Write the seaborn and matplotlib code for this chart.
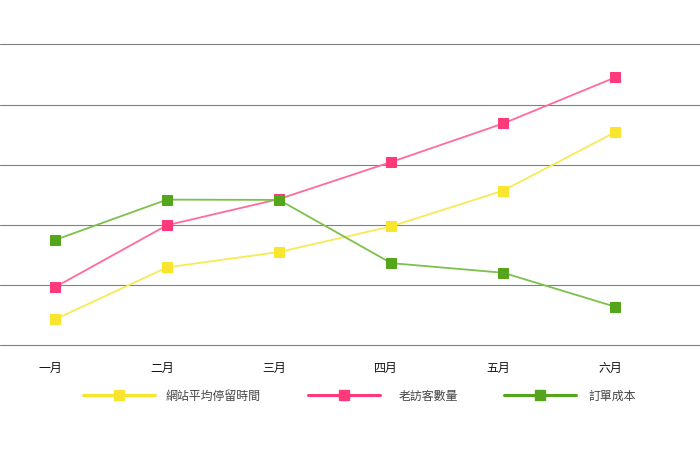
import matplotlib
matplotlib.use("Agg")
import matplotlib.pyplot as plt
import matplotlib.transforms as mtransforms
from matplotlib.lines import Line2D
import seaborn as sns
import pandas as pd

# data
months = ["一月", "二月", "三月", "四月", "五月", "六月"]
stay_time = [8.6, 25.9, 31.0, 39.5, 51.4, 70.8]
old_visitors = [19.3, 39.9, 48.6, 60.9, 73.7, 89.0]
order_cost = [35.0, 48.4, 48.3, 27.3, 24.1, 12.8]
series_names = ["網站平均停留時間", "老訪客數量", "訂單成本"]

line_colors = ["#f7ea55", "#ff6b9a", "#7dc04b"]
marker_colors = ["#f9e42e", "#ff3a7a", "#55a51c"]

sns.set_theme(style="white")
plt.rcParams["font.family"] = ["Noto Sans CJK TC", "DejaVu Sans"]

fig = plt.figure(figsize=(7, 4.5), dpi=100)
ax = fig.add_axes([0, (450 - 345.3) / 450, 1, (345.3 - 44.3) / 450])

x = list(range(len(months)))
for name, vals, lc, mc in zip(series_names, [stay_time, old_visitors, order_cost],
                              line_colors, marker_colors):
    df = pd.DataFrame({"x": x, "y": vals})
    sns.lineplot(data=df, x="x", y="y", ax=ax, color=lc, linewidth=1.3,
                 marker="s", markersize=7, markerfacecolor=mc,
                 markeredgecolor=mc, label=name, zorder=3)

# gridlines
for yv in [0, 20, 40, 60, 80, 100]:
    ax.axhline(yv, color="#808080", linewidth=0.8, zorder=1, clip_on=False)

px = 112.06
ax.set_xlim(-55 / px, (700 - 55) / px)
ax.set_ylim(0, 100)
ax.set_yticks([])
ax.set_xticks(x)
ax.set_xticklabels(months, fontsize=8.6, color="#111111")
ax.tick_params(axis="x", length=0, pad=12)
offset = mtransforms.ScaledTranslation(-5 / 100, 0, fig.dpi_scale_trans)
for lab in ax.get_xticklabels():
    lab.set_transform(lab.get_transform() + offset)
ax.set_xlabel("")
ax.set_ylabel("")
for s in ax.spines.values():
    s.set_visible(False)

ax.get_legend().remove()

# legend items placed one by one, like the reference
starts = [83, 308, 504]
pads = [0.92, 1.58, 1.08]
for name, mc, x0, pad in zip(series_names, marker_colors, starts, pads):
    h = Line2D([], [], color=mc, linewidth=2.2, marker="s", markersize=7,
               markerfacecolor=mc, markeredgecolor=mc)
    leg = fig.legend([h], [name], loc="center left",
                     bbox_to_anchor=(x0 / 700, 1 - 396 / 450),
                     frameon=False, fontsize=8.6, handlelength=6.0,
                     handletextpad=pad, borderpad=0, borderaxespad=0,
                     numpoints=1)
    leg.get_texts()[0].set_color("#444444")

fig.savefig("out.png", dpi=100)
